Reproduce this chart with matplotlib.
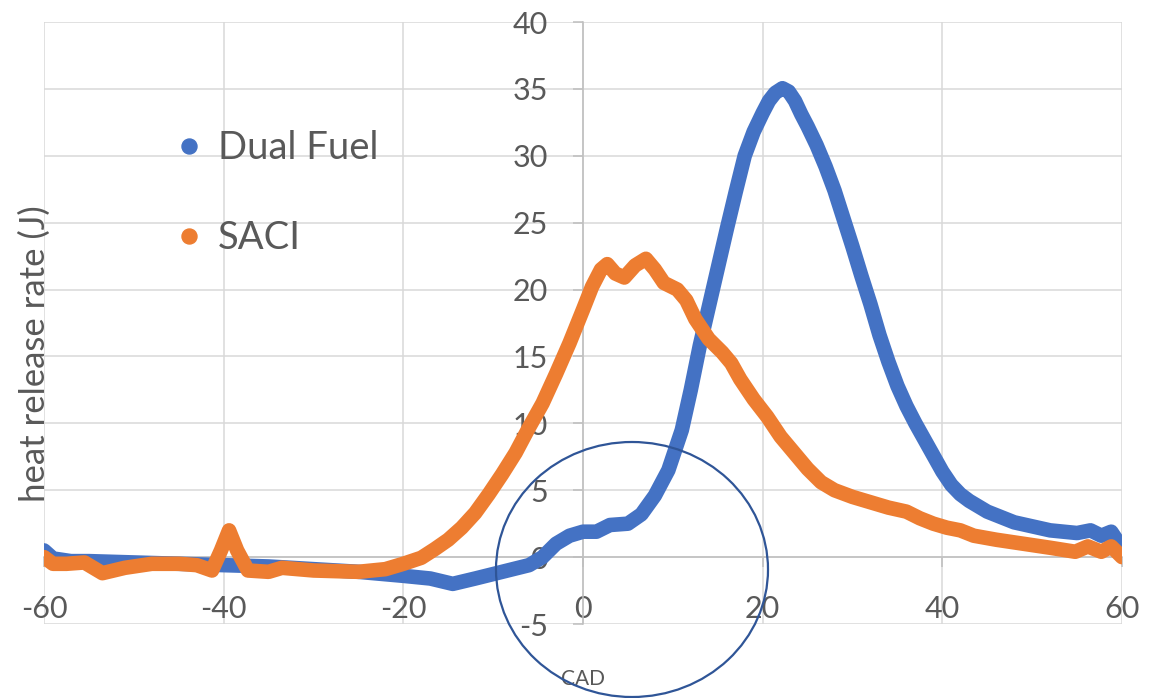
import matplotlib
matplotlib.use("Agg")
import matplotlib.pyplot as plt
from matplotlib.lines import Line2D
from matplotlib.patches import Ellipse

plt.rcParams['font.family'] = ['Lato', 'DejaVu Sans']
plt.rcParams['axes.unicode_minus'] = False

# ---- data ----
dual_x = [-60, -59, -57, -55, -50, -45, -40, -35, -30, -25, -20, -17, -14.5, -12, -9,
          -6, -4.5, -3, -1.5, 0, 1.5, 3, 5, 6.5, 8, 9.5, 11, 12, 13, 14, 15, 16, 17,
          18, 19, 20, 20.7, 21.4, 22.2, 22.9, 23.6, 24.3, 25, 26, 27, 28, 29, 30, 31, 32,
          33, 34, 35, 36, 37, 38, 39, 40, 41, 42, 43, 44, 45, 46.5, 48, 50, 52, 55, 56.5,
          57.7, 58.8, 60]
dual_y = [0.5, -0.1, -0.3, -0.3, -0.4, -0.5, -0.6, -0.7, -0.9, -1.1, -1.4, -1.6, -2.0, -1.6, -1.1,
          -0.6, 0.0, 1.0, 1.6, 1.9, 1.9, 2.4, 2.5, 3.2, 4.6, 6.5, 9.5, 12.5, 15.8, 18.7, 21.6, 24.5, 27.3,
          30.0, 31.8, 33.2, 34.1, 34.7, 35.05, 34.8, 34.1, 33.1, 32.2, 30.8, 29.2, 27.4, 25.3, 23.2, 21.0, 18.9,
          16.6, 14.6, 12.8, 11.3, 10.0, 8.8, 7.6, 6.4, 5.4, 4.7, 4.2, 3.8, 3.4, 3.0, 2.6, 2.3, 2.0, 1.8, 2.0,
          1.6, 1.9, 0.7]

saci_x = [-60, -59, -57.5, -55.5, -53.5, -51, -48, -45, -43, -41.3, -40.3, -39.4, -38.5, -37.3,
          -35, -33.5, -30, -25, -22, -20, -18, -16.5, -15, -13.5, -12, -10.5, -9, -7.5, -6,
          -4.5, -3, -1.5, 0, 1, 2, 2.7, 3.6, 4.6, 5.8, 7, 8, 9, 10.5, 11.5, 12.5, 14, 15.5,
          16.5, 17.5, 19, 20.5, 22, 23.5, 25, 26.5, 28, 30, 32, 34, 36, 37.5, 39, 40.5, 42,
          43.5, 46, 48, 50, 52, 54.8, 56.2, 57.7, 58.8, 60]
saci_y = [0.0, -0.5, -0.5, -0.4, -1.2, -0.8, -0.5, -0.5, -0.6, -1.0, 0.5, 2.0, 0.5, -1.0,
          -1.1, -0.8, -1.0, -1.1, -0.9, -0.5, -0.05, 0.6, 1.3, 2.2, 3.3, 4.7, 6.2, 7.8, 9.7,
          11.5, 13.7, 16.0, 18.5, 20.2, 21.5, 21.9, 21.2, 20.9, 21.8, 22.3, 21.5, 20.5, 20.0, 19.2, 17.8, 16.3, 15.3,
          14.5, 13.3, 11.8, 10.5, 9.0, 7.8, 6.6, 5.6, 5.0, 4.5, 4.1, 3.7, 3.4, 2.9, 2.5, 2.2, 2.0,
          1.6, 1.3, 1.1, 0.9, 0.7, 0.4, 0.8, 0.4, 0.8, 0.0]

series_names = ["Dual Fuel", "SACI"]
series_colors = ["#4472C4", "#ED7D31"]
x_ticks = [-60, -40, -20, 0, 20, 40, 60]
y_ticks = [-5, 0, 5, 10, 15, 20, 25, 30, 35, 40]
x_label = "CAD"
y_label = "heat release rate (J)"

# ---- figure ----
W, H = 1163, 698
fig = plt.figure(figsize=(W / 100, H / 100), dpi=100)
L, R, T, B = 44, 1122, 22, 624
ax = fig.add_axes([L / W, 1 - B / H, (R - L) / W, (B - T) / H])
ax.set_xlim(-60, 60)
ax.set_ylim(-5, 40)

ax.plot(dual_x, dual_y, color=series_colors[0], lw=10.5, solid_capstyle='round',
        solid_joinstyle='round', zorder=3)
ax.plot(saci_x, saci_y, color=series_colors[1], lw=10.5, solid_capstyle='round',
        solid_joinstyle='round', zorder=4)

ax.set_xticks(x_ticks)
ax.set_yticks(y_ticks)
ax.grid(True, color='#d9d9d9', lw=1.1, zorder=0)
ax.set_axisbelow(True)

for s in ['top', 'right']:
    ax.spines[s].set_visible(False)
ax.spines['left'].set_position(('data', 0))
ax.spines['bottom'].set_position(('data', 0))
for s in ['left', 'bottom']:
    ax.spines[s].set_color('#bfbfbf')
    ax.spines[s].set_linewidth(1.1)
    ax.spines[s].set_zorder(1)

ax.tick_params(axis='both', colors='#bfbfbf', labelcolor='#595959', labelsize=22,
               length=7.2, width=1.1)
ax.tick_params(axis='y', pad=18)
ax.tick_params(axis='x', pad=20)

ax.set_xlabel(x_label, fontsize=15, color='#595959')
ax.xaxis.set_label_coords(0.5, (B - 679) / (B - T))
ax.xaxis.label.set_va('center')
ax.set_ylabel(y_label, fontsize=25, color='#595959')
ax.yaxis.set_label_coords((35 - L) / (R - L), (B - 354) / (B - T))
ax.yaxis.label.set_va('center')
ax.yaxis.label.set_ha('center')

handles = [Line2D([], [], marker='o', ls='none', color=c, markersize=10.8) for c in series_colors]
leg = ax.legend(handles, series_names, loc='upper left', bbox_to_anchor=(170 / W, 1 - 130 / H),
                bbox_transform=fig.transFigure, frameon=False, fontsize=27.5,
                handlelength=1.0, handletextpad=0.25, labelspacing=1.42, borderpad=0,
                borderaxespad=0, labelcolor='#595959')

circle = Ellipse((632 / W, 1 - 569.5 / H), 272 / W, 255 / H, transform=fig.transFigure,
                 fill=False, edgecolor='#2F5597', lw=1.6, zorder=10)
fig.add_artist(circle)

fig.savefig("out.png", dpi=100)
